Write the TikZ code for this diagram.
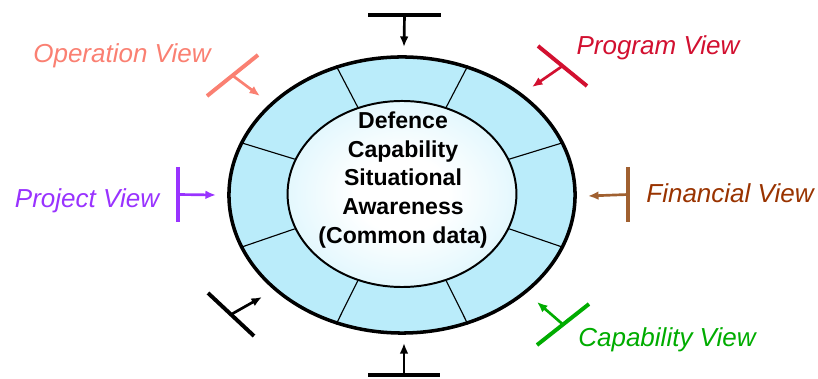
\documentclass[tikz,border=0pt]{standalone}
\usepackage{fontspec}
\setmainfont{Liberation Sans}
\usetikzlibrary{shapes.geometric, arrows.meta, calc}

\definecolor{ringblue}{RGB}{186,236,250}
\definecolor{coremid}{RGB}{222,246,253}
\definecolor{opcol}{RGB}{250,128,114}
\definecolor{progcol}{RGB}{210,16,48}
\definecolor{projcol}{RGB}{153,51,255}
\definecolor{fincol}{RGB}{153,51,0}
\definecolor{finmark}{RGB}{160,96,48}
\definecolor{capcol}{RGB}{0,172,0}
\pgfdeclareradialshading{coreshade}{\pgfpoint{0bp}{0bp}}{color(0bp)=(white); color(10bp)=(white); color(28bp)=(coremid); color(46bp)=(ringblue); color(50bp)=(ringblue)}

\begin{document}
\begin{tikzpicture}[x=0.025cm, y=-0.025cm]
    % Styles
    \tikzstyle{ring} = [ellipse, draw, line width=2.5pt, fill=ringblue, inner sep=0pt, minimum width=8.65cm, minimum height=6.9cm]
    \tikzstyle{core} = [ellipse, draw, line width=1.4pt, shading=coreshade, inner sep=0pt, minimum width=5.72cm, minimum height=4.65cm]
    \tikzstyle{divider} = [draw, line width=0.8pt]
    \tikzstyle{tbar} = [draw, line width=2.8pt]
    \tikzstyle{line} = [draw, -{Latex[length=7.5pt, width=6.2pt]}, line width=1.9pt]
    \tikzstyle{view} = [anchor=base, font=\fontsize{18.5}{22}\selectfont\itshape]

    \useasboundingbox (0,0) rectangle (818,379);

    % Nodes
    \node [ring] (outer) at (402,195) {};
    \node [core] (inner) at (402,194) {};
    \node [align=center, font=\fontsize{16.4}{20.3}\selectfont\bfseries] (data) at (403,180)
        {Defence\\Capability\\Situational\\Awareness\\(Common data)};

    \foreach \a in {18,63,117,162,198,243,297,342}
        \path [divider] (outer.\a) -- (inner.\a);

    \node [view, text=opcol] (oplabel) at (122,63) {Operation View};
    \node [view, text=progcol] (proglabel) at (658,55) {Program View};
    \node [view, text=projcol] (projlabel) at (87,208) {Project View};
    \node [view, text=fincol] (finlabel) at (730,203) {Financial View};
    \node [view, text=capcol] (caplabel) at (667,347) {Capability View};

    % Bars
    \coordinate (topA) at (368,15);  \coordinate (topB) at (441,15);  \coordinate (topTip) at (404,47);
    \coordinate (botA) at (368,375); \coordinate (botB) at (440,375); \coordinate (botTip) at (404,343);
    \coordinate (opA) at (207,96);   \coordinate (opB) at (258,55);   \coordinate (opTip) at (260,96);
    \coordinate (progA) at (538,46); \coordinate (progB) at (587,86); \coordinate (progTip) at (532,87);
    \coordinate (projA) at (178,167); \coordinate (projB) at (178,222); \coordinate (projTip) at (216,195);
    \coordinate (finA) at (628,167); \coordinate (finB) at (628,222); \coordinate (finTip) at (588,196);
    \coordinate (capA) at (537,345); \coordinate (capB) at (589,304); \coordinate (capTip) at (537,302);
    \coordinate (llA) at (208,293);  \coordinate (llB) at (254,336);  \coordinate (llTip) at (262,297);

    % Connections
    \path [tbar] (topA) -- (topB);
    \path [line] ($(topA)!0.5!(topB)$) -- (topTip);
    \path [tbar] (botA) -- (botB);
    \path [line] ($(botA)!0.5!(botB)$) -- (botTip);
    \path [tbar, opcol] (opA) -- (opB);
    \path [line, opcol] ($(opA)!0.5!(opB)$) -- (opTip);
    \path [tbar, progcol] (progA) -- (progB);
    \path [line, progcol] ($(progA)!0.5!(progB)$) -- (progTip);
    \path [tbar, projcol] (projA) -- (projB);
    \path [line, projcol] ($(projA)!0.5!(projB)$) -- (projTip);
    \path [tbar, finmark] (finA) -- (finB);
    \path [line, finmark] ($(finA)!0.5!(finB)$) -- (finTip);
    \path [tbar, capcol] (capA) -- (capB);
    \path [line, capcol] ($(capA)!0.5!(capB)$) -- (capTip);
    \path [tbar] (llA) -- (llB);
    \path [line] ($(llA)!0.5!(llB)$) -- (llTip);

\end{tikzpicture}
\end{document}
